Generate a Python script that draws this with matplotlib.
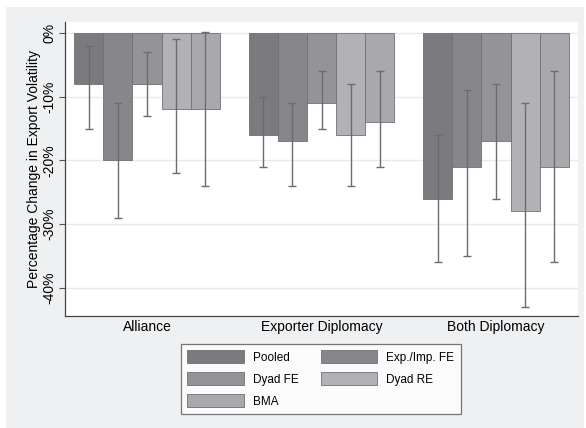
import numpy as np
import matplotlib.pyplot as plt
from matplotlib.patches import Rectangle

plt.rcParams["font.family"] = ["Liberation Sans", "DejaVu Sans"]

categories = ["Alliance", "Exporter Diplomacy", "Both Diplomacy"]
models = ["Pooled", "Exp./Imp. FE", "Dyad FE", "Dyad RE", "BMA"]

# point estimates and CI bounds (percent change), per model across categories
est = {
    "Pooled":       [-8, -16, -26],
    "Exp./Imp. FE": [-20, -17, -21],
    "Dyad FE":      [-8, -11, -17],
    "Dyad RE":      [-12, -16, -28],
    "BMA":          [-12, -14, -21],
}
ci_high = {
    "Pooled":       [-2, -10, -16],
    "Exp./Imp. FE": [-11, -11, -9],
    "Dyad FE":      [-3, -6, -8],
    "Dyad RE":      [-1, -8, -11],
    "BMA":          [0.2, -6, -6],
}
ci_low = {
    "Pooled":       [-15, -21, -36],
    "Exp./Imp. FE": [-29, -24, -35],
    "Dyad FE":      [-13, -15, -26],
    "Dyad RE":      [-22, -24, -43],
    "BMA":          [-24, -21, -36],
}
colors = {
    "Pooled": "#7b7b7f",
    "Exp./Imp. FE": "#87878b",
    "Dyad FE": "#949498",
    "Dyad RE": "#b2b2b6",
    "BMA": "#a9a9ad",
}

fig = plt.figure(figsize=(5.86, 4.28), dpi=100)
fig.patch.set_facecolor("white")
fig.patches.append(Rectangle((6 / 586, 0), 578 / 586, 1 - 7 / 428,
                             transform=fig.transFigure, facecolor="#eef0f2",
                             edgecolor="none", zorder=-10))

ax = fig.add_axes([65 / 586, 1 - 316 / 428, 513 / 586, 294 / 428])
ax.set_facecolor("white")

x = np.arange(len(categories))
width = 0.167
for i, m in enumerate(models):
    pos = x + (i - 2) * width
    vals = np.array(est[m])
    lo = np.array(ci_low[m])
    hi = np.array(ci_high[m])
    ax.bar(pos, vals, width, color=colors[m], edgecolor="#707074",
           linewidth=0.6, zorder=2)
    ax.errorbar(pos, (lo + hi) / 2, yerr=(hi - lo) / 2, fmt="none",
                ecolor="#6c6c70", elinewidth=1.0, capsize=3, capthick=1.0,
                zorder=3)

ax.set_xlim(-0.47, 2.47)
ax.set_ylim(-44.4, 1.7)
ax.set_yticks([0, -10, -20, -30, -40])
ax.set_yticklabels(["0%", "-10%", "-20%", "-30%", "-40%"], rotation=90,
                   va="center", fontsize=10)
ax.set_xticks(x)
ax.set_xticklabels(categories, fontsize=10)
ax.tick_params(axis="x", length=0, pad=3)
ax.tick_params(axis="y", length=4, color="#555555", pad=2)
ax.set_ylabel("Percentage Change in Export Volatility", fontsize=10, labelpad=1)
ax.yaxis.grid(True, color="#eaeaea", linewidth=1.0, zorder=0)
ax.set_axisbelow(True)
for s in ["top", "right"]:
    ax.spines[s].set_visible(False)
for s in ["left", "bottom"]:
    ax.spines[s].set_color("#444444")
    ax.spines[s].set_linewidth(0.9)

# legend fills column-wise, so reorder to read row-wise like the original
order = ["Pooled", "Dyad FE", "BMA", "Exp./Imp. FE", "Dyad RE"]
handles = [Rectangle((0, 0), 1, 1, facecolor=colors[m], edgecolor="#707074",
                     linewidth=0.6) for m in order]
leg = fig.legend(handles, order, loc="upper left", ncol=2,
                 bbox_to_anchor=(181 / 586, 1 - 344 / 428),
                 fontsize=8.5, frameon=True, fancybox=False,
                 handlelength=4.75, handleheight=1.3, handletextpad=0.76,
                 columnspacing=1.95, labelspacing=0.72, borderpad=0.55,
                 borderaxespad=0)
leg.get_frame().set_edgecolor("#555555")
leg.get_frame().set_linewidth(0.9)

fig.savefig("out.png", dpi=100, facecolor=fig.get_facecolor())
